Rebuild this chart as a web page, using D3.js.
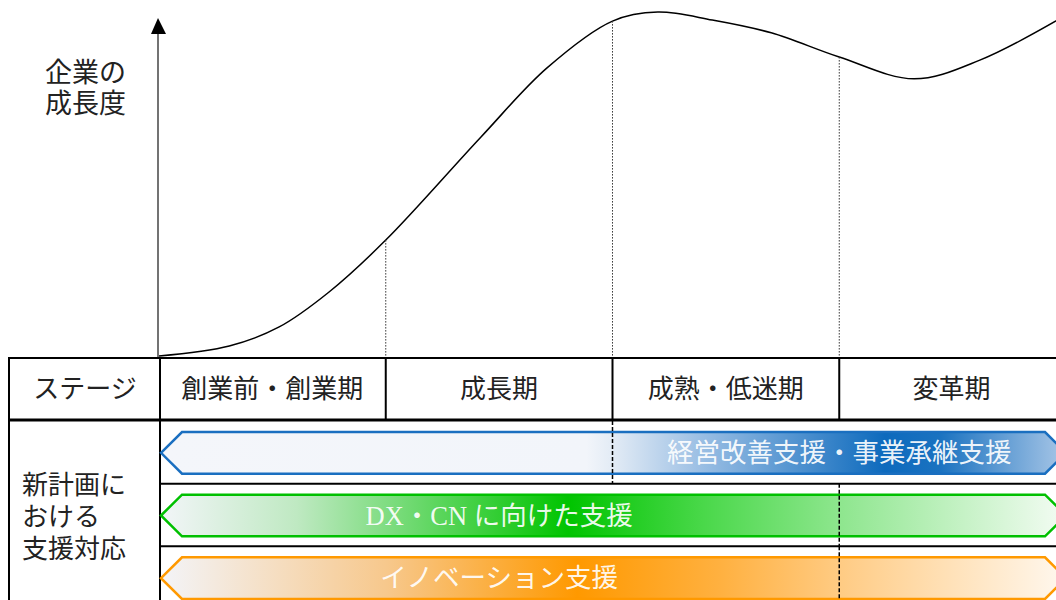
<html>
<meta charset="utf-8">
<style>
body { margin: 0; background: #fff; }
text {
  font-family: "Liberation Serif", "Noto Sans CJK JP", serif;
  fill: #222;
}
.grid { stroke: #000; fill: none; }
.inbar { fill: #fff; fill-opacity: .93; }
</style>
<body>
<script src="https://cdn.jsdelivr.net/npm/d3@7"></script>
<script>

/*******************
data
********************/
var stages = ['創業前・創業期', '成長期', '成熟・低迷期', '変革期'];
var headerLabel = 'ステージ';
var axisLabel = ['企業の', '成長度'];
var rowLabel = ['新計画に', 'おける', '支援対応'];

/* growth curve, x in stage units (0..4), y as growth 0..100 */
var curveX = [0, 0.31, 0.53, 0.75, 1, 1.42, 1.71, 2, 2.2, 2.44, 2.7, 3, 3.33, 3.62, 4];
var curveY = [0, 2.9, 8.4, 18.5, 33.5, 63.3, 83.2, 96.8, 99.4, 97.1, 93.4, 86.4, 80.1, 85.5, 98.5];

var supports = ['経営改善支援・事業承継支援', 'DX・CN に向けた支援', 'イノベーション支援'];
var supportLabelAt = [3, 1.5, 1.5];     // where the label sits, stage units
var supportDivider = [2, 3, 3];         // dashed boundary inside each row

/*******************
styles
********************/
var barStroke = ['#1a6fc0', '#00c000', '#ff9900'];
var barStops = [
    [[0, '#f4f6fa'], [0.47, '#f2f5fa'], [0.5, '#e2ebf5'], [0.6, '#98bde3'], [0.8, '#0d6abd'], [0.86, '#1a72c0'], [1, '#a9c7e7']],
    [[0, '#f2f5f8'], [0.15, '#bfe9c2'], [0.45, '#00c400'], [0.6, '#4ad84a'], [0.75, '#8ee68e'], [1, '#f4fcf4']],
    [[0, '#f3f4f8'], [0.25, '#f7c88c'], [0.46, '#ff9900'], [0.62, '#ffb141'], [0.76, '#ffcd88'], [1, '#fff8ef']]
];

var width = 1056, height = 600,
    tableTop = 358, headerBottom = 420, tableLeft = 9, colLeft = 159;

var svg = d3.select('body').append('svg')
    .attr('width', width)
    .attr('height', height);

var xs = d3.scaleLinear().domain([0, 4]).range([colLeft, 1066]);
var ys = d3.scaleLinear().domain([0, 100]).range([356, 10]);
var rows = d3.scaleBand().domain(d3.range(supports.length)).range([421, 609]);

var defs = svg.append('defs');

/* y axis with arrow */
svg.append('line')
    .attr('x1', 158).attr('x2', 158)
    .attr('y1', tableTop).attr('y2', 32)
    .attr('stroke', '#444').attr('stroke-width', 1.5);
svg.append('path')
    .attr('d', 'M158,18 L151,34 L166,34 Z')
    .attr('fill', '#000');

svg.append('g').selectAll('text')
    .data(axisLabel).enter().append('text')
    .attr('x', 45)
    .attr('y', function(d, i){ return 73 + i * 31; })
    .attr('dy', '0.35em')
    .style('font-size', '27px')
    .text(function(d){ return d; });

/* growth curve */
var pts = curveX.map(function(x, i){ return [x, curveY[i]]; });
var line = d3.line()
    .x(function(d){ return xs(d[0]); })
    .y(function(d){ return ys(d[1]); })
    .curve(d3.curveCatmullRom.alpha(0.5));

svg.append('path')
    .datum(pts)
    .attr('d', line)
    .attr('fill', 'none')
    .attr('stroke', '#000')
    .attr('stroke-width', 1.5);

/* dotted drops at stage boundaries */
svg.append('g').selectAll('line')
    .data([1, 2, 3]).enter().append('line')
    .attr('x1', function(d){ return xs(d); })
    .attr('x2', function(d){ return xs(d); })
    .attr('y1', function(d){ return ys(curveY[curveX.indexOf(d)]); })
    .attr('y2', tableTop)
    .attr('stroke', '#333')
    .attr('stroke-width', 1)
    .attr('stroke-dasharray', '1.5,1.5');

/* table */
var grid = svg.append('g').attr('class', 'grid');
grid.append('line').attr('x1', tableLeft).attr('x2', width).attr('y1', tableTop).attr('y2', tableTop).attr('stroke-width', 2);
grid.append('line').attr('x1', tableLeft).attr('x2', tableLeft).attr('y1', tableTop - 1).attr('y2', height).attr('stroke-width', 2);
grid.append('line').attr('x1', colLeft + 1).attr('x2', colLeft + 1).attr('y1', tableTop).attr('y2', height).attr('stroke-width', 2);
grid.append('line').attr('x1', tableLeft).attr('x2', width).attr('y1', headerBottom).attr('y2', headerBottom).attr('stroke-width', 3);
grid.selectAll('.sdiv')
    .data([1, 2, 3]).enter().append('line')
    .attr('class', 'sdiv')
    .attr('x1', function(d){ return xs(d); })
    .attr('x2', function(d){ return xs(d); })
    .attr('y1', tableTop).attr('y2', headerBottom)
    .attr('stroke-width', 2);
grid.selectAll('.rdiv')
    .data(d3.range(1, supports.length)).enter().append('line')
    .attr('class', 'rdiv')
    .attr('x1', colLeft).attr('x2', width)
    .attr('y1', function(d){ return rows(d); })
    .attr('y2', function(d){ return rows(d); })
    .attr('stroke-width', 2);

/* header texts */
svg.append('text')
    .attr('x', (tableLeft + colLeft) / 2 + 1)
    .attr('y', 389)
    .attr('dy', '0.35em')
    .attr('text-anchor', 'middle')
    .style('font-size', '26px')
    .text(headerLabel);

svg.append('g').selectAll('text')
    .data(stages).enter().append('text')
    .attr('x', function(d, i){ return i < 3 ? xs(i + 0.5) : xs(i + 0.5) - 1; })
    .attr('y', 389)
    .attr('dy', '0.35em')
    .attr('text-anchor', 'middle')
    .style('font-size', '26px')
    .text(function(d){ return d; });

svg.append('g').selectAll('text')
    .data(rowLabel).enter().append('text')
    .attr('x', 22)
    .attr('y', function(d, i){ return 485 + i * 32; })
    .attr('dy', '0.35em')
    .style('font-size', '26px')
    .text(function(d){ return d; });

/* support bars */
var x0 = xs(0) + 2, x1 = xs(4), tip = 21;

barStops.forEach(function(stops, i){
    var g = defs.append('linearGradient')
        .attr('id', 'grad' + i)
        .attr('gradientUnits', 'userSpaceOnUse')
        .attr('x1', x0).attr('x2', x1)
        .attr('y1', 0).attr('y2', 0);
    g.selectAll('stop')
        .data(stops).enter().append('stop')
        .attr('offset', function(d){ return d[0]; })
        .attr('stop-color', function(d){ return d[1]; });
});

var bars = svg.append('g').selectAll('g')
    .data(supports).enter().append('g');

bars.append('path')
    .attr('d', function(d, i){
        var top = rows(i) + 11, bot = rows(i) + rows.bandwidth() - 10, mid = (top + bot) / 2;
        return 'M' + x0 + ',' + mid +
            'L' + (x0 + tip) + ',' + top +
            'L' + (x1 - tip) + ',' + top +
            'L' + x1 + ',' + mid +
            'L' + (x1 - tip) + ',' + bot +
            'L' + (x0 + tip) + ',' + bot + 'Z';
    })
    .attr('fill', function(d, i){ return 'url(#grad' + i + ')'; })
    .attr('stroke', function(d, i){ return barStroke[i]; })
    .attr('stroke-width', 2.5);

/* dashed boundaries on top of bars */
svg.append('g').selectAll('line')
    .data(supportDivider).enter().append('line')
    .attr('x1', function(d){ return xs(d); })
    .attr('x2', function(d){ return xs(d); })
    .attr('y1', function(d, i){ return rows(i); })
    .attr('y2', function(d, i){ return rows(i) + rows.bandwidth(); })
    .attr('stroke', '#000')
    .attr('stroke-width', 1.5)
    .attr('stroke-dasharray', '4,2');

bars.append('text')
    .attr('class', 'inbar')
    .attr('x', function(d, i){ return xs(supportLabelAt[i]); })
    .attr('y', function(d, i){ return rows(i) + rows.bandwidth() / 2 + 0.5; })
    .attr('dy', '0.35em')
    .attr('text-anchor', 'middle')
    .style('font-size', '26.5px')
    .text(function(d){ return d; });

</script>
</body>
</html>
